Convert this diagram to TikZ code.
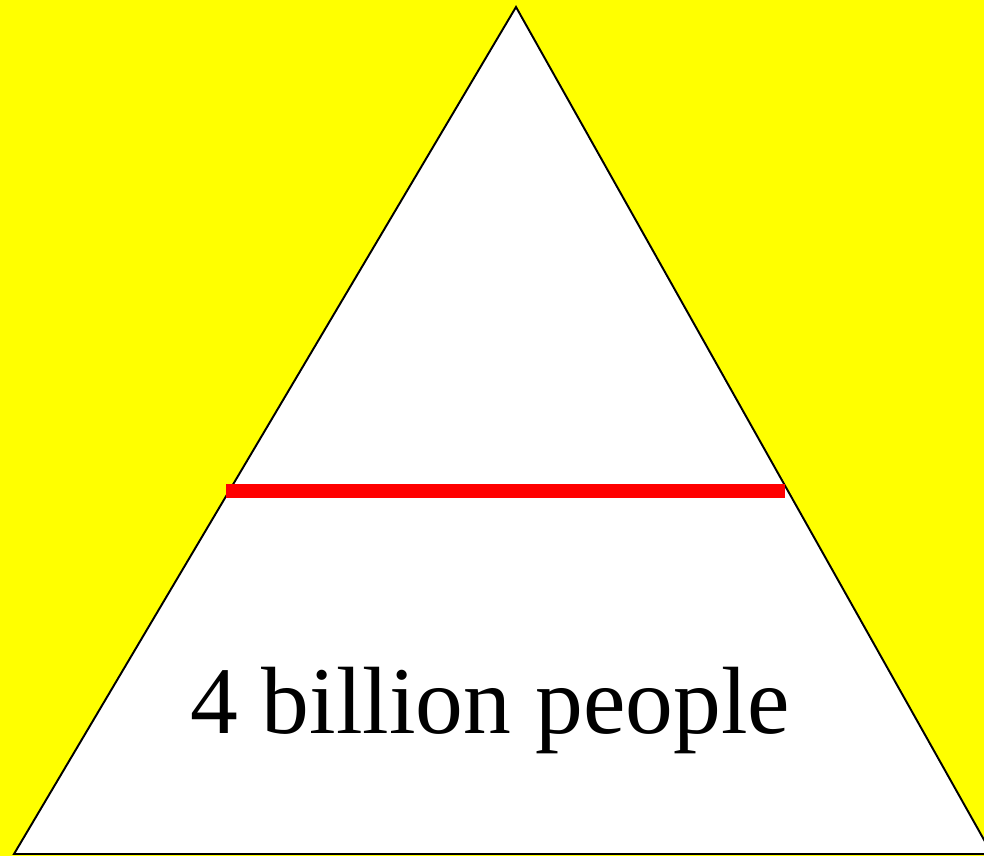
\documentclass[tikz,border=0pt]{standalone}
\usepackage{fontspec}
\setmainfont{Liberation Serif}
\usepackage{tikz}
\usetikzlibrary{positioning, calc}
\definecolor{bgyellow}{RGB}{255,255,0}
\definecolor{cutred}{RGB}{255,0,0}

\begin{document}
\begin{tikzpicture}[
  x=0.02cm, y=-0.02cm,
  tri/.style={draw=black, fill=white, line width=1.1pt, line join=miter},
  cut/.style={draw=cutred, line width=8pt},
  label/.style={font=\fontsize{54.4}{60}\selectfont, inner sep=0pt, anchor=base}
]

% background
\fill[bgyellow] (0,0) rectangle (984,856);
\useasboundingbox (0,0) rectangle (984,856);

% pyramid
\coordinate (top)   at (516,7);
\coordinate (left)  at (14,854);
\coordinate (right) at (992,854);
\draw[tri] (top) -- (left) -- (right) -- cycle;

% dividing line
\coordinate (cutL) at (226,491);
\coordinate (cutR) at (785,491);
\draw[cut] (cutL) -- (cutR);

\node[label] (people) at (490,733) {4 billion people};

\end{tikzpicture}
\end{document}
